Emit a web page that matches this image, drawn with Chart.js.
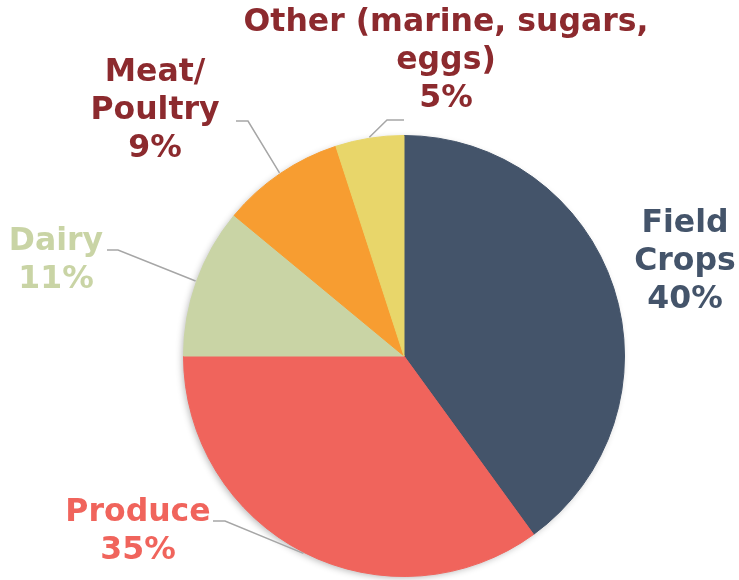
<!DOCTYPE html>
<html>
<head>
<meta charset="utf-8">
<title>Farm output by sector</title>
<script src="https://cdn.jsdelivr.net/npm/chart.js@4.4.0/dist/chart.umd.min.js"></script>
<style>
  html, body { margin: 0; padding: 0; background: #ffffff; }
  #wrap { width: 739px; height: 580px; }
</style>
</head>
<body>
<div id="wrap"><canvas id="sectorPie" width="739" height="580"></canvas></div>
<script>
  // sectors and their share of the total (percent)
  const categories = ["Field Crops", "Produce", "Dairy", "Meat/Poultry", "Other (marine, sugars, eggs)"];
  const shares = [40, 35, 11, 9, 5];
  // how each category name is broken over lines in its label
  const labelText = [["Field", "Crops"], ["Produce"], ["Dairy"], ["Meat/", "Poultry"], ["Other (marine, sugars,", "eggs)"]];

  const sliceColors = ["#44546A", "#F0645C", "#C9D4A5", "#F79D31", "#E8D66A"];
  const textColors = ["#44546A", "#F0645C", "#C9D4A5", "#8C2A2E", "#8C2A2E"];

  // label placement, in pixels from the pie centre:
  // tx = text centre x, ty = first line y, elbow/end = leader line bend and end
  const labelLayout = [
    { tx: 281, ty: -132, line: null },
    { tx: -266, ty: 157, line: { elbow: [-179, 165], end: [-191, 165] } },
    { tx: -348, ty: -114, line: { elbow: [-286, -106], end: [-297, -106] } },
    { tx: -249, ty: -283, line: { elbow: [-156, -235], end: [-168, -235] } },
    { tx: 42, ty: -333, line: { elbow: [-17, -236], end: [0, -236] } }
  ];
  const lineGap = 38;

  // soft shadow under the whole pie
  const pieShadow = {
    id: "pieShadow",
    beforeDatasetsDraw(chart) {
      const arc = chart.getDatasetMeta(0).data[0];
      if (!arc) return;
      const ctx = chart.ctx;
      ctx.save();
      ctx.shadowColor = "rgba(0, 0, 0, 0.30)";
      ctx.shadowBlur = 7;
      ctx.shadowOffsetX = -2;
      ctx.shadowOffsetY = 2;
      ctx.fillStyle = "#ffffff";
      ctx.beginPath();
      ctx.arc(arc.x, arc.y, arc.outerRadius - 1, 0, Math.PI * 2);
      ctx.fill();
      ctx.restore();
    }
  };

  // category names, percentages and leader lines
  const outsideLabels = {
    id: "outsideLabels",
    afterDatasetsDraw(chart) {
      const ctx = chart.ctx;
      const arcs = chart.getDatasetMeta(0).data;
      ctx.save();
      arcs.forEach((arc, i) => {
        const cx = arc.x, cy = arc.y;
        const lay = labelLayout[i];

        if (lay.line) {
          const mid = (arc.startAngle + arc.endAngle) / 2;
          const r = arc.outerRadius + 1;
          ctx.strokeStyle = "#A6A6A6";
          ctx.lineWidth = 1.5;
          ctx.beginPath();
          ctx.moveTo(cx + Math.cos(mid) * r, cy + Math.sin(mid) * r);
          ctx.lineTo(cx + lay.line.elbow[0], cy + lay.line.elbow[1]);
          ctx.lineTo(cx + lay.line.end[0], cy + lay.line.end[1]);
          ctx.stroke();
        }

        const lines = labelText[i].concat([shares[i] + "%"]);
        ctx.fillStyle = textColors[i];
        ctx.font = "bold 31.5px 'DejaVu Sans', Verdana, sans-serif";
        ctx.textAlign = "center";
        ctx.textBaseline = "middle";
        lines.forEach((t, k) => {
          ctx.fillText(t, cx + lay.tx, cy + lay.ty + k * lineGap);
        });
      });
      ctx.restore();
    }
  };

  const pie = new Chart(document.getElementById("sectorPie").getContext("2d"), {
    type: "pie",
    data: {
      labels: categories,
      datasets: [{
        data: shares,
        backgroundColor: sliceColors,
        // stroke each slice in its own colour so no seam shows between them
        borderColor: sliceColors,
        borderWidth: 1
      }]
    },
    options: {
      responsive: false,
      animation: false,
      layout: { padding: { left: 183, right: 114, top: 135, bottom: 3 } },
      plugins: {
        legend: { display: false },
        tooltip: { enabled: false }
      }
    },
    plugins: [pieShadow, outsideLabels]
  });
</script>
</body>
</html>
